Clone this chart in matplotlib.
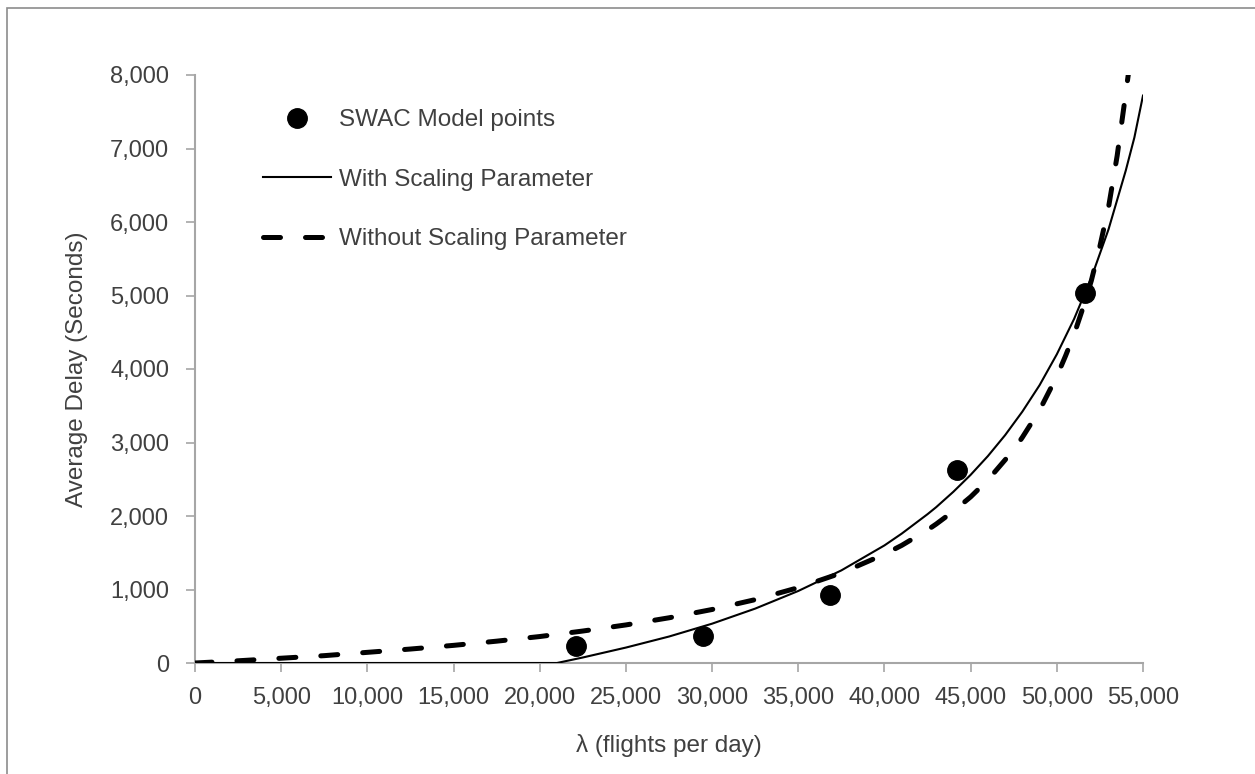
import matplotlib
matplotlib.use('Agg')
import matplotlib.pyplot as plt
from matplotlib.patches import Rectangle
from matplotlib.ticker import FuncFormatter

# SWAC model points
swac_x = [22100, 29470, 36840, 44220, 51650]
swac_y = [230, 365, 925, 2630, 5040]

# "With Scaling Parameter" curve
with_x = [0, 5000, 10000, 15000, 21000, 22500, 25000, 27500, 30000, 32500,
          35000, 37500, 40000, 41000, 42500, 43000, 44000, 45000, 46000,
          47000, 48000, 49000, 50000, 51000, 52000, 53000, 54000, 54500,
          55000]
with_y = [0, 0, 0, 0, 0, 75, 210, 360, 535, 740, 980, 1260, 1600, 1760,
          2025, 2120, 2330, 2560, 2815, 3100, 3420, 3780, 4200, 4680, 5240,
          5900, 6700, 7150, 7720]

# "Without Scaling Parameter" curve
without_x = [0, 2500, 5000, 7500, 10000, 12500, 15000, 17500, 20000, 22500,
             25000, 27500, 30000, 32500, 35000, 37500, 40000, 41000, 42500,
             43000, 44000, 45000, 46000, 47500, 48000, 49000, 50000, 50500,
             51000, 51500, 52000, 52500, 53000, 53500, 54000, 54200]
without_y = [0, 30, 65, 100, 145, 190, 240, 297, 360, 435, 518, 615, 728,
             862, 1025, 1225, 1480, 1600, 1810, 1890, 2065, 2260, 2490, 2900,
             3070, 3440, 3900, 4175, 4470, 4820, 5200, 5670, 6200, 6900,
             7750, 8100]

xticks = list(range(0, 55001, 5000))
yticks = list(range(0, 8001, 1000))

plt.rcParams['font.family'] = ['Liberation Sans', 'DejaVu Sans']
txt = '#404040'
grey = '#a6a6a6'

fig = plt.figure(figsize=(12.55, 7.74), dpi=100)
ax = fig.add_axes([195 / 1255, 1 - 663 / 774, 948 / 1255, 588 / 774])

# outer chart border
fig.patches.append(Rectangle((7 / 1255, -0.05), 1.2, 1 - 8 / 774 + 0.05,
                             transform=fig.transFigure, fill=False,
                             edgecolor='#8c8c8c', linewidth=1.2))

ax.plot(swac_x, swac_y, 'o', color='black', markersize=14,
        label='SWAC Model points', clip_on=False, zorder=4)
ax.plot(with_x, with_y, '-', color='black', linewidth=1.5,
        label='With Scaling Parameter', zorder=3)
ax.plot(without_x, without_y, '--', color='black', linewidth=3.6,
        dashes=(3.4, 5.0), dash_capstyle='round',
        label='Without Scaling Parameter', zorder=3)

ax.set_xlim(0, 55000)
ax.set_ylim(0, 8000)
ax.set_xticks(xticks)
ax.set_yticks(yticks)
fmt = FuncFormatter(lambda v, p: '{:,}'.format(int(v)))
ax.xaxis.set_major_formatter(fmt)
ax.yaxis.set_major_formatter(fmt)

for s in ['top', 'right']:
    ax.spines[s].set_visible(False)
for s in ['left', 'bottom']:
    ax.spines[s].set_color(grey)
    ax.spines[s].set_linewidth(1.5)

ax.tick_params(axis='both', colors=grey, labelcolor=txt, labelsize=17,
               length=6.5, width=1.2, direction='out')
ax.tick_params(axis='y', pad=12)
ax.tick_params(axis='x', pad=11)

ax.set_xlabel('λ (flights per day)', fontsize=17.5, color=txt, labelpad=18)
ax.set_ylabel('Average Delay (Seconds)', fontsize=17.5, color=txt,
              labelpad=16)

leg = ax.legend(loc='upper left', bbox_to_anchor=(0.072, 0.942),
                frameon=False, fontsize=17.5, labelspacing=1.55,
                handlelength=2.8, handletextpad=0.3, borderpad=0,
                borderaxespad=0)
for t in leg.get_texts():
    t.set_color(txt)

fig.savefig('out.png', dpi=100)
